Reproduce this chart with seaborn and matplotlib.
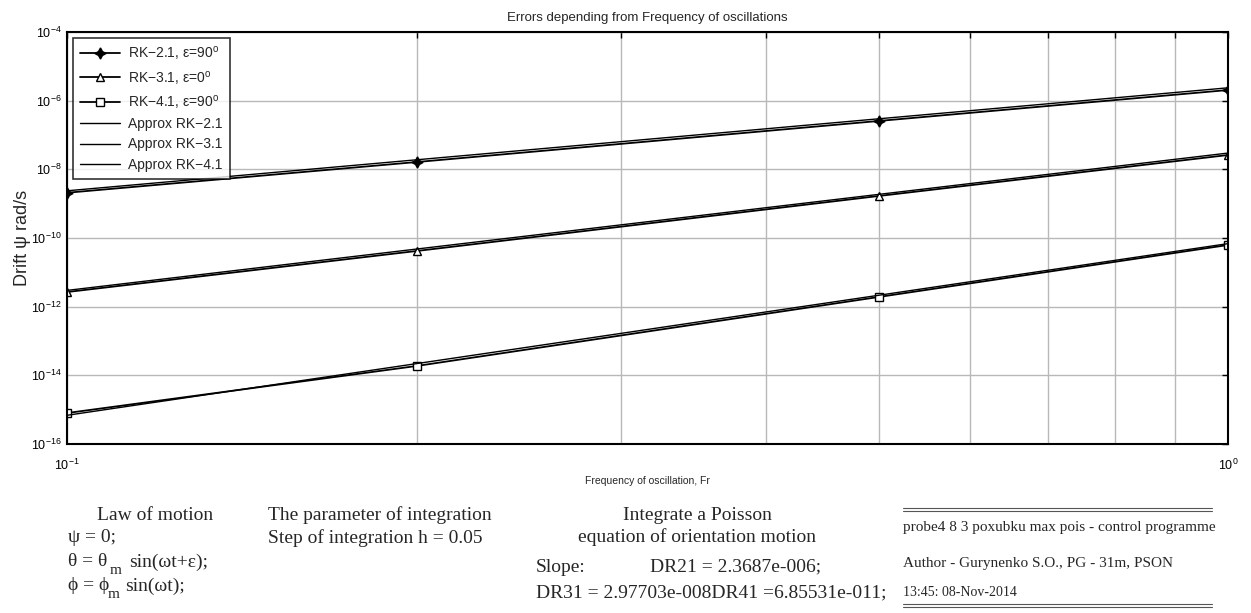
import numpy as np
import pandas as pd
import matplotlib
matplotlib.use("Agg")
import matplotlib.pyplot as plt
import matplotlib.ticker as mticker
import seaborn as sns

# Frequencies at which the drift was computed
freq = [0.1, 0.2, 0.5, 1.0]

# Drift of psi (rad/s) for each integration method
rk21 = [2.08e-9, 1.63e-8, 2.56e-7, 2.04e-6]
rk31 = [2.67e-12, 4.18e-11, 1.67e-9, 2.61e-8]
rk41 = [7.98e-16, 1.87e-14, 1.91e-12, 6.25e-11]

# Power-law approximations, end points at Fr = 0.1 and Fr = 1
approx_freq = [0.1, 1.0]
approx21 = [2.3687e-9, 2.3687e-6]
approx31 = [2.97703e-12, 2.97703e-8]
approx41 = [6.85531e-16, 6.85531e-11]

y_ticks = [1e-16, 1e-14, 1e-12, 1e-10, 1e-8, 1e-6, 1e-4]

sns.set_style("white")
plt.rcParams["font.family"] = ["Liberation Sans", "DejaVu Sans"]
plt.rcParams["mathtext.fontset"] = "custom"
plt.rcParams["mathtext.rm"] = "Liberation Sans"
plt.rcParams["mathtext.it"] = "Liberation Sans:italic"

fig = plt.figure(figsize=(12.51, 6.13), dpi=100)
ax = fig.add_axes([0.0536, 0.2757, 0.928, 0.6721])

lab21 = "RK\u22122.1, \u03b5=90$^{\\rm o}$"
lab31 = "RK\u22123.1, \u03b5=0$^{\\rm o}$"
lab41 = "RK\u22124.1, \u03b5=90$^{\\rm o}$"
measured = pd.DataFrame({
    "Fr": freq * 3,
    "drift": rk21 + rk31 + rk41,
    "series": [lab21] * 4 + [lab31] * 4 + [lab41] * 4,
})
markers = {
    lab21: dict(marker=(4, 1, 0), ms=8, mfc="black"),
    lab31: dict(marker="^", ms=6, mfc="white"),
    lab41: dict(marker="s", ms=6, mfc="white"),
}
for name, style in markers.items():
    sub = measured[measured["series"] == name]
    sns.lineplot(data=sub, x="Fr", y="drift", ax=ax, color="black", lw=1.3,
                 label=name, mec="black", mew=1.0, **style)

for name, vals in [("Approx RK\u22122.1", approx21),
                   ("Approx RK\u22123.1", approx31),
                   ("Approx RK\u22124.1", approx41)]:
    sns.lineplot(x=approx_freq, y=vals, ax=ax, color="black", lw=1.0, label=name)

ax.set_xscale("log")
ax.set_yscale("log")
ax.set_xlim(0.1, 1.0)
ax.set_ylim(1e-16, 1e-4)
ax.set_yticks(y_ticks)
ax.yaxis.set_minor_locator(mticker.NullLocator())
ax.xaxis.set_major_locator(mticker.FixedLocator([0.1, 1.0]))
ax.xaxis.set_minor_locator(mticker.FixedLocator([0.2, 0.3, 0.4, 0.5, 0.6, 0.7, 0.8, 0.9]))
ax.xaxis.set_minor_formatter(mticker.NullFormatter())

ax.grid(True, which="major", color="#b8b8b8", lw=1.0)
ax.grid(True, which="minor", axis="x", color="#b8b8b8", lw=1.0)
ax.tick_params(which="both", direction="in", length=4, width=1, colors="black",
               labelsize=9, top=True, right=True)
ax.tick_params(axis="x", pad=10)
ax.tick_params(axis="y", pad=4)
for s in ax.spines.values():
    s.set_color("black")
    s.set_linewidth(1.5)

ax.set_title("Errors depending from Frequency of oscillations", fontsize=9.5, pad=8)
ax.set_xlabel("Frequency of oscillation, Fr", fontsize=7.5, labelpad=2)
ax.set_ylabel("Drift \u03c8 rad/s", fontsize=13, labelpad=0)

leg = ax.legend(loc="upper left", fontsize=10, frameon=True, fancybox=False,
                handlelength=2.9, handletextpad=0.6, borderaxespad=0.4,
                labelspacing=0.45, borderpad=0.5, edgecolor="black")
leg.get_frame().set_linewidth(1.2)

serif = ["Liberation Serif", "DejaVu Serif"]
W, H = 1251, 613


def put(x, y, s, size=14, ha="left", **kw):
    fig.text(x / W, 1 - y / H, s, fontsize=size, ha=ha, va="center",
             family=serif, **kw)


put(155, 515, "Law of motion", ha="center")
put(68, 538, "\u03c8 = 0;")
put(68, 562, "\u03b8 = \u03b8")
put(68, 586, "\u03d5 = \u03d5")
put(110, 570, "m", size=11)
put(108, 594, "m", size=11)
put(129, 562, "sin(\u03c9t+\u03b5);")
put(125, 586, "sin(\u03c9t);")

put(268, 515, "The parameter of integration")
put(268, 538, "Step of integration h = 0.05")

put(697, 515, "Integrate a Poisson", ha="center")
put(697, 537, "equation of orientation motion", ha="center")
put(536, 567, "Slope:")
put(650, 567, "DR21 = 2.3687e-006;")
put(536, 593, "DR31 = 2.97703e-008DR41 =6.85531e-011;")

for yy in (508, 511, 604, 607):
    fig.add_artist(plt.Line2D([903 / W, 1212 / W], [1 - yy / H, 1 - yy / H],
                              color="#555555", lw=0.8))
put(903, 527, "probe4 8 3 poxubku max pois - control programme", size=11)
put(903, 563, "Author - Gurynenko S.O., PG - 31m, PSON", size=11)
put(903, 592, "13:45: 08-Nov-2014", size=10)

fig.savefig("out.png", dpi=100)
